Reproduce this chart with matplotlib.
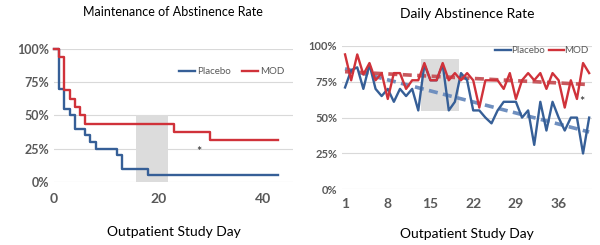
import matplotlib
matplotlib.use("Agg")
import matplotlib.pyplot as plt
import matplotlib.patches as mpatches
import numpy as np

plt.rcParams['font.family'] = ['Lato', 'DejaVu Sans']

# left panel: survival-style step data (day, rate %)
placebo_days = [0, 1, 2, 3, 4, 6, 7, 8, 12, 13, 18, 43]
placebo_rate = [100, 70, 55, 50, 40, 35, 30, 25, 20, 10, 5, 5]
mod_days = [0, 1, 2, 3, 4, 5, 6, 23, 30, 43]
mod_rate = [100, 93.75, 68.75, 62.5, 56.25, 50, 43.75, 37.5, 31.25, 31.25]

# right panel: daily abstinence rate (%) for days 1..41
daily_days = list(range(1, 42))
daily_placebo = [71, 83, 85, 70, 87, 70, 65, 70, 61, 70,
                 65, 70, 55, 87, 76, 76, 87, 55, 61, 81,
                 76, 55, 55, 50, 46, 55, 61, 61, 61, 50,
                 55, 31, 61, 41, 61, 50, 41, 50, 50, 25, 50]
daily_mod = [94, 76, 94, 80, 88, 76, 81, 63, 81, 81,
             70, 76, 76, 88, 76, 76, 88, 76, 81, 76,
             81, 76, 57, 76, 76, 76, 70, 81, 63, 76,
             81, 76, 81, 70, 81, 76, 57, 76, 63, 88, 81]
# linear trend lines as drawn in the original (value at first and last day)
trend_days = [1, 41]
trend_placebo = [84, 40]
trend_mod = [82, 73]
day_ticks = [1, 8, 15, 22, 29, 36]

BLUE = '#365F97'
RED = '#D0323A'
GRID = '#D9D9D9'
TICK = '#595959'

fig = plt.figure(figsize=(6, 2.45), dpi=100)
ax1 = fig.add_axes([0.09, 0.258, 0.398, 0.542])
ax2 = fig.add_axes([0.57, 0.227, 0.417, 0.586])

# ---- left: maintenance of abstinence
ax1.add_patch(mpatches.Rectangle((15.8, 0), 6, 0.5, color='#DCDCDC', lw=0, zorder=1))
ax1.step(placebo_days, np.array(placebo_rate) / 100, where='post', color=BLUE,
         lw=1.7, label='Placebo', zorder=3, clip_on=False)
ax1.step(mod_days, np.array(mod_rate) / 100, where='post', color=RED,
         lw=1.7, label='MOD', zorder=4, clip_on=False)
ax1.text(27.7, 0.225, '*', ha='center', va='center', fontsize=9, color='#222222')
ax1.set_xlim(0, 45.8)
ax1.set_ylim(0, 1)
ax1.set_xticks([0, 20, 40])
ax1.set_yticks([0, 0.25, 0.5, 0.75, 1])
ax1.set_yticklabels(['0%', '25%', '50%', '75%', '100%'])
ax1.set_title('Maintenance of Abstinence Rate', fontsize=9, pad=24)
ax1.set_xlabel('Outpatient Study Day', fontsize=10, labelpad=15)
ax1.legend(loc='upper right', bbox_to_anchor=(1.0, 0.93), ncol=2, frameon=False,
           fontsize=7, handlelength=1.6, handletextpad=0.2, columnspacing=1.2,
           labelcolor=TICK)

# ---- right: daily abstinence
ax2.add_patch(mpatches.Rectangle((13.4, 0.545), 6.3, 0.36, color='#DCDCDC', lw=0, zorder=1))
d = np.array(daily_days)
ax2.plot(d, np.array(daily_placebo) / 100, color=BLUE, lw=1.7, label='Placebo', zorder=3)
ax2.plot(d, np.array(daily_mod) / 100, color=RED, lw=1.7, label='MOD', zorder=4)
ax2.plot(trend_days, np.array(trend_placebo) / 100, color='#6F8FBF', lw=2.6,
         ls=(0, (2.5, 1.5)), zorder=2.5)
ax2.plot(trend_days, np.array(trend_mod) / 100, color='#C8585D', lw=2.6,
         ls=(0, (2.5, 1.5)), zorder=2.6)
ax2.text(39.8, 0.61, '*', ha='center', va='center', fontsize=9, color='#222222')
ax2.set_xlim(0.5, 41.5)
ax2.set_ylim(0, 1)
ax2.set_xticks(day_ticks)
ax2.set_yticks([0, 0.25, 0.5, 0.75, 1])
ax2.set_yticklabels(['0%', '25%', '50%', '75%', '100%'])
ax2.set_title('Daily Abstinence Rate', fontsize=10, pad=20)
ax2.set_xlabel('Outpatient Study Day', fontsize=10, labelpad=13)
ax2.legend(loc='upper right', bbox_to_anchor=(1.02, 1.06), ncol=2, frameon=False,
           fontsize=7, handlelength=1.6, handletextpad=0.0, columnspacing=0.4,
           labelcolor=TICK)

for ax, fs in ((ax1, 9), (ax2, 8)):
    for s in ax.spines.values():
        s.set_visible(False)
    ax.yaxis.grid(True, color=GRID, lw=0.8)
    ax.set_axisbelow(True)
    ax.tick_params(length=0, labelsize=fs, labelcolor=TICK)
    for lbl in ax.get_xticklabels() + ax.get_yticklabels():
        lbl.set_fontweight('bold')
ax1.tick_params(axis='x', labelsize=10, pad=8)
ax2.tick_params(axis='x', labelsize=10, pad=6)

fig.savefig('out.png', dpi=100)
